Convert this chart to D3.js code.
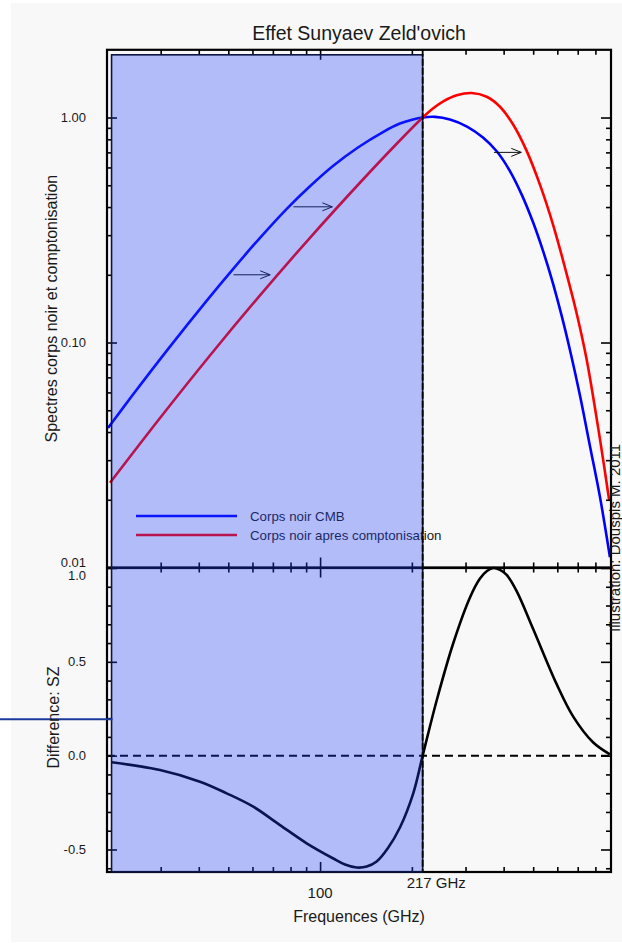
<!DOCTYPE html>
<html>
<head>
<meta charset="utf-8">
<script src="https://cdn.jsdelivr.net/npm/d3@7"></script>
<style>
  body { margin: 0; background: #fff; }
  text { font-family: "Liberation Sans", Arial, sans-serif; fill: #1a1a1a; }
</style>
</head>
<body>
<script>
// values (GHz, normalised intensity)
const blueFreq = [20.15, 24.34, 31.47, 42.56, 51.8, 63.52, 77.89, 92.64, 110.2, 133.1, 160.8, 182.8, 200.2, 217, 238.2, 266.7, 303.3, 342.2, 380.2, 419.5, 459.3, 499.2, 538.3, 576.2, 621.4, 665, 712, 767.6, 828, 893];
const blueVal = [0.0417, 0.0587, 0.0923, 0.154, 0.212, 0.292, 0.394, 0.495, 0.609, 0.736, 0.862, 0.940, 0.977, 1.0, 1.007, 0.980, 0.912, 0.815, 0.706, 0.578, 0.452, 0.343, 0.256, 0.190, 0.130, 0.0887, 0.0581, 0.0347, 0.0206, 0.0111];

const redFreq = [20.46, 29.85, 43.53, 63.52, 92.64, 135.1, 176.1, 217, 235, 253.6, 280.6, 314.2, 352, 389.1, 430.2, 476, 526.2, 581.8, 642.4, 694.2, 748.8, 828, 888.2];
const redVal = [0.0238, 0.0462, 0.0876, 0.162, 0.292, 0.513, 0.751, 1.0, 1.10, 1.18, 1.255, 1.285, 1.237, 1.117, 0.929, 0.711, 0.503, 0.332, 0.204, 0.135, 0.0841, 0.0372, 0.0198];

const diffFreq = [20.72, 29.85, 40.37, 49.4, 60.37, 73.87, 90.36, 110.5, 120.7, 131.8, 142.2, 153.3, 167, 182.8, 202.1, 217, 241.2, 273.4, 310.2, 334.6, 352.7, 369.9, 389.1, 409.3, 441.3, 500.3, 597.1, 676.6, 787.1, 893];
const diffVal = [-0.035, -0.077, -0.139, -0.201, -0.272, -0.37, -0.467, -0.548, -0.58, -0.596, -0.591, -0.564, -0.492, -0.383, -0.201, 0, 0.294, 0.599, 0.843, 0.944, 0.984, 1.0, 0.99, 0.963, 0.877, 0.674, 0.381, 0.208, 0.07, 0.007];

// arrows showing the shift of the spectrum
const arrowFrom = [52, 81.8, 371.8];
const arrowTo = [68.6, 109.7, 457];
const arrowVal = [0.2, 0.401, 0.7];

const legendNames = ["Corps noir CMB", "Corps noir apres comptonisation"];

// ticks
const xMajor = [100];
const xMinor = [30, 40, 50, 60, 70, 80, 90, 200, 300, 400, 500, 600, 700, 800];
const yTopMajor = [0.01, 0.1, 1];
const yTopLabels = ["0.01", "0.10", "1.00"];
const yTopMinor = [0.02, 0.03, 0.04, 0.05, 0.06, 0.07, 0.08, 0.09, 0.2, 0.3, 0.4, 0.5, 0.6, 0.7, 0.8, 0.9];
const yBotMajor = [-0.5, 0, 0.5, 1];
const yBotLabels = ["-0.5", "0.0", "0.5", "1.0"];
const yBotMinor = [-0.6, -0.4, -0.3, -0.2, -0.1, 0.1, 0.2, 0.3, 0.4, 0.6, 0.7, 0.8, 0.9];

const nullFreq = 217;
const shadeFreq = [20.7, 217];
const strayVal = 0.194;

const w = 622, h = 943;

const svg = d3.select("body").append("svg")
  .attr("width", w).attr("height", h);

svg.append("rect").attr("width", w).attr("height", h).attr("fill", "#fff");
svg.append("rect").attr("x", 11).attr("y", 3).attr("width", w - 11).attr("height", 939).attr("fill", "#f8f8f8");

const x = d3.scaleLog().domain([20, 900]).range([107, 611]);
const yTop = d3.scaleLog().domain([0.01, 2]).range([567.5, 49.8]);
const yBot = d3.scaleLinear().domain([-0.62, 1.0]).range([872, 568]);

const lineTop = d3.line()
  .x(d => x(d[0])).y(d => yTop(d[1]))
  .curve(d3.curveCatmullRom.alpha(0.5));
const lineBot = d3.line()
  .x(d => x(d[0])).y(d => yBot(d[1]))
  .curve(d3.curveCatmullRom.alpha(0.5));

// curves
svg.append("path")
  .attr("d", lineTop(d3.zip(blueFreq, blueVal)))
  .attr("fill", "none").attr("stroke", "#0000ff").attr("stroke-width", 2.6);
svg.append("path")
  .attr("d", lineTop(d3.zip(redFreq, redVal)))
  .attr("fill", "none").attr("stroke", "#ff0000").attr("stroke-width", 2.6);

svg.append("line")
  .attr("x1", x.range()[0]).attr("x2", x.range()[1])
  .attr("y1", yBot(0)).attr("y2", yBot(0))
  .attr("stroke", "#000").attr("stroke-width", 2).attr("stroke-dasharray", "8,5");

svg.append("path")
  .attr("d", lineBot(d3.zip(diffFreq, diffVal)))
  .attr("fill", "none").attr("stroke", "#000").attr("stroke-width", 2.6);

// arrows
svg.append("defs").append("marker")
  .attr("id", "head")
  .attr("markerUnits", "userSpaceOnUse")
  .attr("markerWidth", 14).attr("markerHeight", 12)
  .attr("refX", 11).attr("refY", 6)
  .attr("orient", "auto")
  .append("path")
  .attr("d", "M1,2 L11,6 L1,10")
  .attr("fill", "none").attr("stroke", "#111").attr("stroke-width", 1);

svg.selectAll(".arrow")
  .data(arrowVal)
  .enter().append("line")
  .attr("class", "arrow")
  .attr("x1", (d, i) => x(arrowFrom[i]))
  .attr("x2", (d, i) => x(arrowTo[i]))
  .attr("y1", d => yTop(d)).attr("y2", d => yTop(d))
  .attr("stroke", "#111").attr("stroke-width", 1)
  .attr("marker-end", "url(#head)");

// legend
const legendColors = ["#0000ff", "#ff0000"];
const leg = svg.append("g").attr("transform", "translate(136,516)");
legendNames.forEach((name, i) => {
  leg.append("line")
    .attr("x1", 0).attr("x2", 101)
    .attr("y1", i * 19).attr("y2", i * 19)
    .attr("stroke", legendColors[i]).attr("stroke-width", 2.6);
  leg.append("text")
    .attr("x", 114).attr("y", i * 19 + 4.5)
    .style("font-size", "13.3px")
    .text(name);
});

// tick marks, all pointing inwards
function ticks(axis, vals, size, transform) {
  svg.append("g")
    .attr("transform", transform)
    .call(axis.tickValues(vals).tickSize(size).tickSizeOuter(0).tickFormat(""))
    .call(g => g.select(".domain").remove())
    .selectAll("line").attr("stroke", "#000").attr("stroke-width", 1.6);
}

const xl = x.range()[0], xr = x.range()[1];
const topY = yTop.range()[1], midY = yTop.range()[0], botY = yBot.range()[0];

ticks(d3.axisTop(x), xMajor, -10, `translate(0,${topY})`);
ticks(d3.axisTop(x), xMinor, -5, `translate(0,${topY})`);
ticks(d3.axisBottom(x), xMajor, -10, `translate(0,${midY})`);
ticks(d3.axisBottom(x), xMinor, -5, `translate(0,${midY})`);
ticks(d3.axisTop(x), xMajor, -10, `translate(0,${midY})`);
ticks(d3.axisTop(x), xMinor, -5, `translate(0,${midY})`);
ticks(d3.axisBottom(x), xMajor, -10, `translate(0,${botY})`);
ticks(d3.axisBottom(x), xMinor, -5, `translate(0,${botY})`);

ticks(d3.axisLeft(yTop), yTopMajor, -10, `translate(${xl},0)`);
ticks(d3.axisLeft(yTop), yTopMinor, -5, `translate(${xl},0)`);
ticks(d3.axisRight(yTop), yTopMajor, -10, `translate(${xr},0)`);
ticks(d3.axisRight(yTop), yTopMinor, -5, `translate(${xr},0)`);
ticks(d3.axisLeft(yBot), yBotMajor, -10, `translate(${xl},0)`);
ticks(d3.axisLeft(yBot), yBotMinor, -5, `translate(${xl},0)`);
ticks(d3.axisRight(yBot), yBotMajor, -10, `translate(${xr},0)`);
ticks(d3.axisRight(yBot), yBotMinor, -5, `translate(${xr},0)`);

// frames
svg.append("rect")
  .attr("x", xl).attr("y", topY).attr("width", xr - xl).attr("height", midY - topY)
  .attr("fill", "none").attr("stroke", "#000").attr("stroke-width", 2.2);
svg.append("rect")
  .attr("x", xl).attr("y", yBot.range()[1]).attr("width", xr - xl).attr("height", botY - yBot.range()[1])
  .attr("fill", "none").attr("stroke", "#000").attr("stroke-width", 2.2);

// shaded band below the null, drawn over the plot
svg.append("rect")
  .attr("x", x(shadeFreq[0])).attr("y", yTop(1.9))
  .attr("width", x(shadeFreq[1]) - x(shadeFreq[0]))
  .attr("height", yBot(-0.62) - yTop(1.9))
  .attr("fill", "rgb(31,62,250)").attr("fill-opacity", 0.32)
  .attr("stroke", "#0c1542").attr("stroke-width", 1.6);

svg.append("line")
  .attr("x1", x(nullFreq)).attr("x2", x(nullFreq))
  .attr("y1", topY).attr("y2", botY)
  .attr("stroke", "#000").attr("stroke-width", 1.8).attr("stroke-dasharray", "7,2");

svg.append("line")
  .attr("x1", 0).attr("x2", x(shadeFreq[0]) + 1)
  .attr("y1", yBot(strayVal)).attr("y2", yBot(strayVal))
  .attr("stroke", "#1c3a9c").attr("stroke-width", 2);

// tick labels
svg.selectAll(".ytl")
  .data(yTopMajor)
  .enter().append("text")
  .attr("x", xl - 21).attr("y", d => yTop(d))
  .attr("dy", d => d === 0.01 ? "-0.05em" : "0.35em")
  .attr("text-anchor", "end")
  .style("font-size", "13px")
  .text((d, i) => yTopLabels[i]);

svg.selectAll(".ybl")
  .data(yBotMajor)
  .enter().append("text")
  .attr("x", xl - 21).attr("y", d => yBot(d))
  .attr("dy", d => d === 1 ? "0.95em" : "0.35em")
  .attr("text-anchor", "end")
  .style("font-size", "13px")
  .text((d, i) => yBotLabels[i]);

svg.append("text")
  .attr("x", x(100)).attr("y", botY + 26)
  .attr("text-anchor", "middle")
  .style("font-size", "15px")
  .text("100");

svg.append("text")
  .attr("x", x(nullFreq) - 16).attr("y", botY + 16)
  .style("font-size", "15px")
  .text("217 GHz");

// titles
svg.append("text")
  .attr("x", (xl + xr) / 2).attr("y", 40)
  .attr("text-anchor", "middle")
  .style("font-size", "19.5px")
  .text("Effet Sunyaev Zeld'ovich");

svg.append("text")
  .attr("x", (xl + xr) / 2).attr("y", 922)
  .attr("text-anchor", "middle")
  .style("font-size", "16px")
  .text("Frequences (GHz)");

svg.append("text")
  .attr("transform", `translate(57,${(topY + midY) / 2}) rotate(-90)`)
  .attr("text-anchor", "middle")
  .style("font-size", "16px")
  .text("Spectres corps noir et comptonisation");

svg.append("text")
  .attr("transform", "translate(59,717.5) rotate(-90)")
  .attr("text-anchor", "middle")
  .style("font-size", "16px")
  .text("Difference: SZ");

svg.append("text")
  .attr("transform", "translate(620,632) rotate(-90)")
  .style("font-size", "15px")
  .text("Illustration: Douspis M. 2011");
</script>
</body>
</html>
